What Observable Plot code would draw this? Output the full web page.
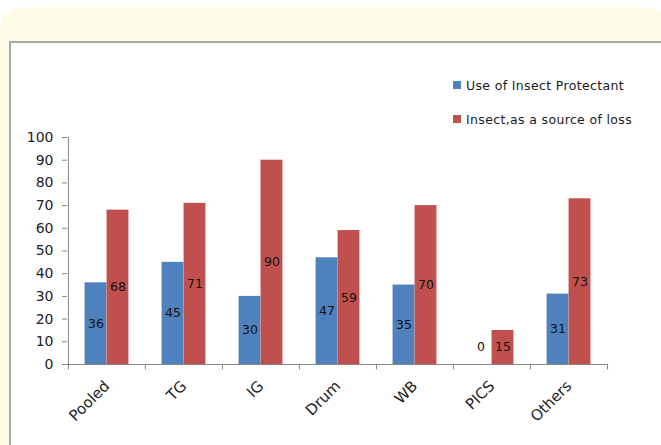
<!DOCTYPE html>
<html>
<head>
<meta charset="utf-8">
<script src="https://cdn.jsdelivr.net/npm/d3@7"></script>
<script src="https://cdn.jsdelivr.net/npm/@observablehq/plot@0.6"></script>
<style>
  html, body { margin: 0; padding: 0; width: 661px; height: 445px; overflow: hidden; background: #ffffff; }
  #bg { position: absolute; left: 0; top: 7px; width: 669px; height: 460px; background: #fffbe8; border-radius: 22px 22px 0 0; }
  #box { position: absolute; left: 9px; top: 41px; width: 700px; height: 450px; background: #ffffff; border-left: 2px solid #a9a9a9; border-top: 2px solid #a9a9a9; }
  #chart { position: absolute; left: 0; top: 0; }
  #legend { position: absolute; left: 453px; top: 76px; font-family: "DejaVu Sans", sans-serif; font-size: 12.5px; letter-spacing: 0.35px; color: #1a1a1a; }
  .item { display: flex; align-items: center; height: 18px; margin-bottom: 16px; }
  .sw { width: 8px; height: 8px; margin-right: 5px; }
</style>
</head>
<body>
<div id="bg"></div>
<div id="box"></div>
<div id="chart"></div>
<div id="legend"></div>
<script>
const categories = ["Pooled", "TG", "IG", "Drum", "WB", "PICS", "Others"];
const protectant = [36, 45, 30, 47, 35, 0, 31];
const loss = [68, 71, 90, 59, 70, 15, 73];
const seriesNames = ["Use of Insect Protectant", "Insect,as a source of loss"];
const seriesColors = ["#4f81bd", "#c0504d"];
const yTicks = [0, 10, 20, 30, 40, 50, 60, 70, 80, 90, 100];

const W = 661, H = 445;
const mL = 67, mR = 54, mT = 137, mB = 81;
const bw = (W - mL - mR) / categories.length;
const barW = 22;
const off = (bw - 2 * barW) / 2;

const blueRows = categories.map((c, i) => ({cat: c, value: protectant[i]}));
const redRows = categories.map((c, i) => ({cat: c, value: loss[i]}));
const axisColor = "#868686";

const chart = Plot.plot({
  width: W, height: H,
  marginLeft: mL, marginRight: mR, marginTop: mT, marginBottom: mB,
  style: {fontFamily: "DejaVu Sans, sans-serif", background: "transparent"},
  x: {domain: categories, padding: 0, label: null},
  y: {domain: [0, 100], label: null},
  marks: [
    Plot.barY(blueRows, {x: "cat", y: "value", fill: seriesColors[0], insetLeft: off, insetRight: bw - off - barW}),
    Plot.barY(redRows, {x: "cat", y: "value", fill: seriesColors[1], insetLeft: off + barW, insetRight: off}),
    Plot.ruleY([0], {stroke: axisColor}),
    Plot.ruleX([categories[0]], {x: d => d, dx: -bw / 2, y1: 0, y2: 100, stroke: axisColor}),
    Plot.ruleX(categories, {x: d => d, dx: -bw / 2, y1: 0, y2: -2.4, stroke: axisColor}),
    Plot.ruleX([categories[categories.length - 1]], {x: d => d, dx: bw / 2, y1: 0, y2: -2.4, stroke: axisColor}),
    Plot.axisY({ticks: yTicks, tickSize: 5, tickPadding: 9, fontSize: 14, stroke: axisColor, fill: "#222"}),
    Plot.axisX({tickSize: 0, tickRotate: -45, tickPadding: 19, fontSize: 15, fill: "#222"}),
    Plot.text(blueRows, {x: "cat", y: d => Math.max(d.value / 2, 7.5), text: d => String(d.value), dx: -(bw / 2 - off - barW / 2), fontSize: 12.5, fill: "#111"}),
    Plot.text(redRows, {x: "cat", y: d => Math.max(d.value / 2, 7.5), text: d => String(d.value), dx: (bw / 2 - off - barW / 2), fontSize: 12.5, fill: "#111"})
  ]
});
document.getElementById("chart").appendChild(chart);

const legend = document.getElementById("legend");
seriesNames.forEach((name, i) => {
  const item = document.createElement("div");
  item.className = "item";
  const sw = document.createElement("div");
  sw.className = "sw";
  sw.style.background = seriesColors[i];
  const label = document.createElement("span");
  label.textContent = name;
  item.appendChild(sw);
  item.appendChild(label);
  legend.appendChild(item);
});
</script>
</body>
</html>
